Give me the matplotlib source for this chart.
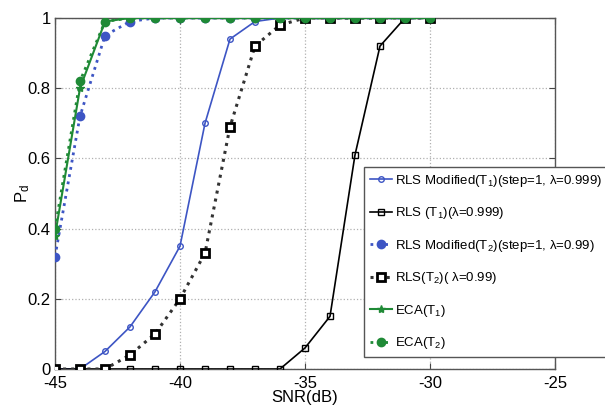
import matplotlib
matplotlib.use("Agg")
import matplotlib.pyplot as plt

plt.rcParams['font.family'] = ['Liberation Sans', 'DejaVu Sans']
plt.rcParams['mathtext.fontset'] = 'custom'
plt.rcParams['mathtext.rm'] = 'Liberation Sans'
plt.rcParams['mathtext.it'] = 'Liberation Sans'
plt.rcParams['mathtext.default'] = 'regular'

snr = [-45, -44, -43, -42, -41, -40, -39, -38, -37, -36, -35, -34, -33, -32, -31, -30]

rls_mod_t1 = [0, 0, 0.05, 0.12, 0.22, 0.35, 0.70, 0.94, 0.99, 1, 1, 1, 1, 1, 1, 1]
rls_t1 = [0, 0, 0, 0, 0, 0, 0, 0, 0, 0, 0.06, 0.15, 0.61, 0.92, 1, 1]
rls_mod_t2 = [0.32, 0.72, 0.95, 0.99, 1, 1, 1, 1, 1, 1, 1, 1, 1, 1, 1, 1]
rls_t2 = [0, 0, 0, 0.04, 0.10, 0.20, 0.33, 0.69, 0.92, 0.98, 1, 1, 1, 1, 1, 1]
eca_t1 = [0.38, 0.80, 0.99, 1, 1, 1, 1, 1, 1, 1, 1, 1, 1, 1, 1, 1]
eca_t2 = [0.40, 0.82, 0.99, 1, 1, 1, 1, 1, 1, 1, 1, 1, 1, 1, 1, 1]

labels = ["RLS Modified(T$_1$)(step=1, \u03bb=0.999)",
          "RLS (T$_1$)(\u03bb=0.999)",
          "RLS Modified(T$_2$)(step=1, \u03bb=0.99)",
          "RLS(T$_2$)( \u03bb=0.99)",
          "ECA(T$_1$)",
          "ECA(T$_2$)"]

xticks = [-45, -40, -35, -30, -25]
yticks = [0, 0.2, 0.4, 0.6, 0.8, 1]

blue = '#3d55c4'
green = '#1f8a36'

fig = plt.figure(figsize=(6.05, 4.09), dpi=100)
ax = fig.add_axes([55/605, 1-369/409, 500/605, 351/409])

ax.plot(snr, rls_mod_t1, '-', color=blue, lw=1.2, marker='o', ms=4,
        mfc='none', mec=blue, mew=1.0, label=labels[0], zorder=3)
ax.plot(snr, rls_t1, '-', color='black', lw=1.2, marker='s', ms=4.5,
        mfc='none', mec='black', mew=1.0, label=labels[1], zorder=3)
ax.plot(snr, rls_mod_t2, ':', color=blue, lw=2.0, marker='o', ms=5.5,
        mfc=blue, mec=blue, mew=1.5, label=labels[2], zorder=4)
ax.plot(snr, rls_t2, ':', color='#333333', lw=2.2, marker='s', ms=5.5,
        mfc='white', mec='black', mew=2.0, label=labels[3], zorder=4)
ax.plot(snr, eca_t1, '-', color=green, lw=1.5, marker='*', ms=6,
        mfc=green, mec=green, label=labels[4], zorder=5)
ax.plot(snr, eca_t2, ':', color=green, lw=2.0, marker='o', ms=6,
        mfc=green, mec=green, label=labels[5], zorder=6)

ax.set_xlim(-45, -25)
ax.set_ylim(0, 1)
ax.set_xticks(xticks)
ax.set_xticklabels([str(t) for t in xticks])
ax.set_yticks(yticks)
ax.set_yticklabels(['0', '0.2', '0.4', '0.6', '0.8', '1'])
ax.tick_params(direction='in', top=True, right=True, labelsize=12, length=4,
               color='#444444', pad=3)
ax.tick_params(axis='x', pad=5)
ax.grid(True, linestyle=':', color='#b0b0b0', lw=0.9)
for s in ax.spines.values():
    s.set_color('#555555')
    s.set_linewidth(1.0)

ax.set_xlabel('SNR(dB)', fontsize=12, labelpad=-1)
ax.set_ylabel('P$_d$', fontsize=12, labelpad=-3)

leg = ax.legend(loc='upper left', bbox_to_anchor=(364/605, 1-167/409),
                bbox_transform=fig.transFigure, borderaxespad=0,
                fontsize=9.5, handlelength=1.7, handletextpad=0.2,
                labelspacing=1.25, borderpad=0.45, fancybox=False,
                framealpha=1, edgecolor='#555555')
leg.get_frame().set_linewidth(1.0)

fig.savefig('out.png', dpi=100)
